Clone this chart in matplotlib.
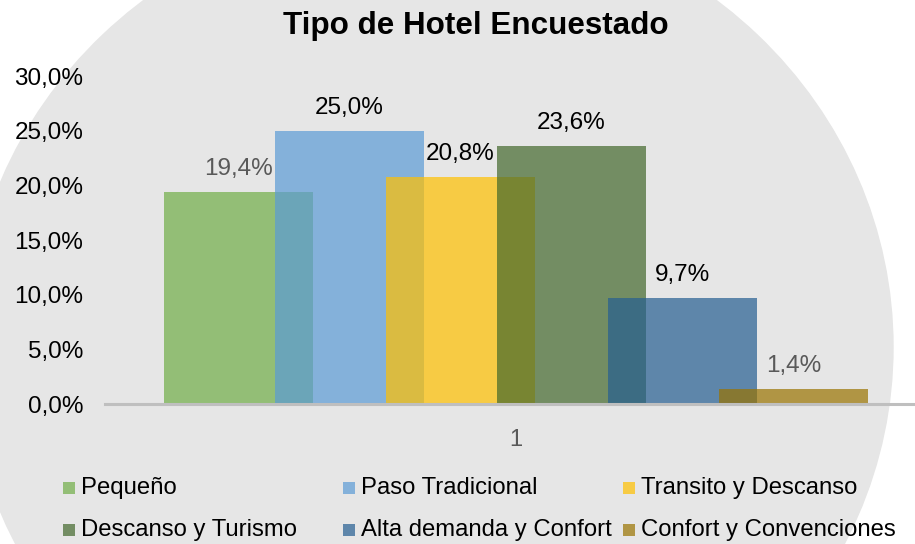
import matplotlib.pyplot as plt
from matplotlib.patches import Ellipse, Rectangle

plt.rcParams['font.family'] = ['Liberation Sans', 'DejaVu Sans']

# datos
categorias = ['Pequeño', 'Paso Tradicional', 'Transito y Descanso',
              'Descanso y Turismo', 'Alta demanda y Confort', 'Confort y Convenciones']
valores = [0.194, 0.250, 0.208, 0.236, 0.097, 0.014]
etiquetas = ['19,4%', '25,0%', '20,8%', '23,6%', '9,7%', '1,4%']
colores = ['#70AD47', '#5B9BD5', '#FFC000', '#43682B', '#255E91', '#997300']
color_etiqueta = ['#595959', 'black', 'black', 'black', 'black', '#595959']
ticks_y = [0, 0.05, 0.10, 0.15, 0.20, 0.25, 0.30]

W, H = 915, 544
fig = plt.figure(figsize=(W / 100, H / 100), dpi=100)

# fondo: elipse gris
bg = fig.add_axes([0, 0, 1, 1])
bg.set_xlim(0, W)
bg.set_ylim(H, 0)
bg.axis('off')
bg.add_patch(Ellipse((430, 347), 926, 882, color='#e6e6e6', zorder=0))

# area del grafico (en pixeles)
left, right, top, bottom = 105, 927, 76, 404
ax = fig.add_axes([left / W, 1 - bottom / H, (right - left) / W, (bottom - top) / H])
ax.patch.set_alpha(0)
ax.set_xlim(-0.5, 0.5)
ax.set_ylim(0, 0.30)

paso = 111 / (right - left)
ancho = 149 / (right - left)
n = len(valores)
for i, v in enumerate(valores):
    x = (i - (n - 1) / 2) * paso
    ax.bar(x, v, width=ancho, color=colores[i], alpha=0.7, zorder=2 + i)
    ax.annotate(etiquetas[i], (x, v), xytext=(0, 12), textcoords='offset points',
                ha='center', va='baseline', fontsize=17.5, color=color_etiqueta[i],
                annotation_clip=False)

ax.set_yticks(ticks_y)
ax.set_yticklabels([('%.1f%%' % (t * 100)).replace('.', ',') for t in ticks_y])
ax.set_xticks([0])
ax.set_xticklabels(['1'])
ax.tick_params(axis='y', length=0, pad=15.5, labelsize=17.5, labelcolor='black')
ax.tick_params(axis='x', length=0, pad=18, labelsize=17, labelcolor='#595959')
for s in ['top', 'right', 'left']:
    ax.spines[s].set_visible(False)
ax.spines['bottom'].set_color('#bfbfbf')
ax.spines['bottom'].set_linewidth(2.2)
ax.spines['bottom'].set_zorder(10)

fig.text(476 / W, 1 - 26 / H, 'Tipo de Hotel Encuestado', ha='center', va='center',
         fontsize=22.6, fontweight='bold')

# leyenda (3 columnas, 2 filas)
for i, cat in enumerate(categorias):
    col, fila = i % 3, i // 3
    x0 = 63 + col * 280
    y0 = 488 + fila * 42
    bg.add_patch(Rectangle((x0, y0 - 6), 12, 12, color=colores[i], alpha=0.7, lw=0))
    bg.text(x0 + 18, y0, cat, ha='left', va='center', fontsize=17.2)

fig.savefig('out.png', dpi=100)
